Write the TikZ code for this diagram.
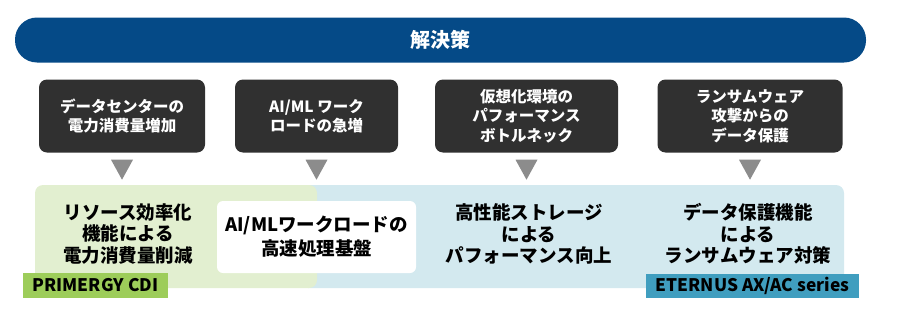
\documentclass[tikz,border=0pt]{standalone}
\usepackage{fontspec}
\setmainfont{Noto Sans CJK JP}
\usetikzlibrary{calc}
\definecolor{bannerblue}{HTML}{054A87}
\definecolor{darkbox}{HTML}{303030}
\definecolor{trigray}{HTML}{8C8C8C}
\definecolor{reggreen}{HTML}{E2EFD0}
\definecolor{regblue}{HTML}{D3E9EF}
\definecolor{labgreen}{HTML}{9DCD5A}
\definecolor{labblue}{HTML}{409EBF}
\tikzset{
  banner/.style={fill=bannerblue, rounded corners=22pt, text=white, font=\bfseries\fontsize{20}{24}\selectfont, inner sep=0pt},
  probbox/.style={fill=darkbox, rounded corners=8pt, text=white, align=center, font=\bfseries\fontsize{15.5}{19.5}\selectfont, inner sep=0pt, minimum height=73pt},
  region/.style={rounded corners=8pt, inner sep=0pt, minimum height=103pt},
  soltext/.style={align=center, font=\bfseries\fontsize{18.5}{21.5}\selectfont, inner sep=0pt},
  whitebox/.style={fill=white, rounded corners=6pt, inner sep=0pt, minimum width=199pt, minimum height=72pt, align=center, font=\bfseries\fontsize{18.5}{24}\selectfont},
  prodlabel/.style={inner sep=0pt, font=\bfseries\fontsize{17.3}{20}\selectfont},
  marker/.style={fill=trigray}
}
\begin{document}
\begin{tikzpicture}[x=1pt,y=-1pt]
\useasboundingbox (0,0) rectangle (900,316);
\node[banner, minimum width=851pt, minimum height=45pt] (ban) at (440.5,40) {解決策};
\node[probbox, minimum width=166pt] (b1) at (122,116) {データセンターの\\電力消費量増加};
\node[probbox, minimum width=163pt] (b2) at (316.5,116) {AI/ML ワーク\\ロードの急増};
\node[probbox, minimum width=183pt] (b3) at (526.5,116) {仮想化環境の\\パフォーマンス\\ボトルネック};
\node[probbox, minimum width=185pt] (b4) at (750,116) {ランサムウェア\\攻撃からの\\データ保護};
\foreach \b in {b1,b2,b3,b4}{
  \fill[marker] ($(\b.south)+(-11,7)$) -- ($(\b.south)+(11,7)$) -- ($(\b.south)+(0,27)$) -- cycle;
}
\node[region, fill=regblue, minimum width=544pt] (rb) at (572,236.5) {};
\node[region, fill=reggreen, minimum width=282pt] (rg) at (176,236.5) {};
\node[whitebox] (wb) at (316.5,237) {AI/MLワークロードの\\高速処理基盤};
\node[soltext] (t1) at (128,234) {リソース効率化\\機能による\\電力消費量削減};
\node[soltext] (t3) at (529,234) {高性能ストレージ\\による\\パフォーマンス向上};
\node[soltext] (t4) at (748,234) {データ保護機能\\による\\ランサムウェア対策};
\node[prodlabel, fill=labgreen, minimum width=145pt, minimum height=25pt] (l1) at (95.5,285.5) {PRIMERGY CDI};
\node[prodlabel, fill=labblue, minimum width=213pt, minimum height=24pt] (l2) at (752.5,286) {ETERNUS AX/AC series};
\end{tikzpicture}
\end{document}
